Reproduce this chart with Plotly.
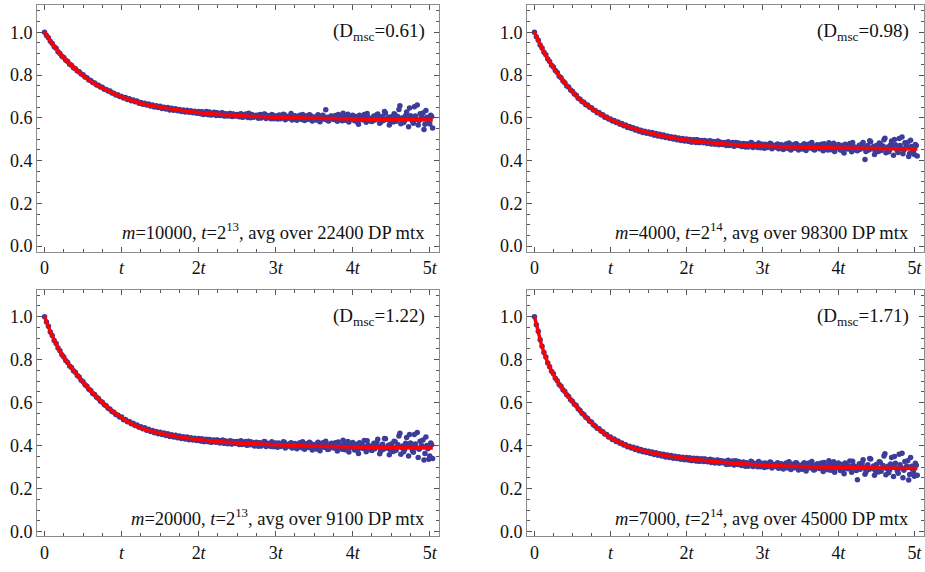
import plotly.graph_objects as go

# sample positions (in units of t)
x_pts = [round(0.025 * i, 3) for i in range(202)]
# extra samples in the flat part (between the ones above)
x_pts2 = [round(2.0125 + 0.025 * i, 4) for i in range(122)]

# m=10000, t=2^13
y_a = [1.000, 0.985, 0.974, 0.958, 0.948, 0.933, 0.925, 0.909, 0.901, 0.888,
       0.882, 0.869, 0.864, 0.851, 0.846, 0.834, 0.829, 0.819, 0.816, 0.805,
       0.801, 0.791, 0.788, 0.777, 0.774, 0.765, 0.763, 0.754, 0.752, 0.744,
       0.743, 0.734, 0.733, 0.725, 0.726, 0.716, 0.715, 0.707, 0.708, 0.700,
       0.700, 0.693, 0.695, 0.686, 0.689, 0.680, 0.683, 0.675, 0.679, 0.668,
       0.672, 0.663, 0.668, 0.660, 0.665, 0.655, 0.660, 0.651, 0.657, 0.648,
       0.654, 0.644, 0.650, 0.641, 0.648, 0.637, 0.645, 0.635, 0.642, 0.633,
       0.639, 0.630, 0.637, 0.627, 0.635, 0.626, 0.633, 0.624, 0.631, 0.621,
       0.630, 0.619, 0.627, 0.618, 0.629, 0.614, 0.622, 0.616, 0.626, 0.611,
       0.621, 0.611, 0.624, 0.610, 0.619, 0.608, 0.620, 0.607, 0.618, 0.609,
       0.616, 0.605, 0.619, 0.603, 0.614, 0.609, 0.621, 0.600, 0.613, 0.606,
       0.612, 0.598, 0.615, 0.604, 0.618, 0.597, 0.610, 0.602, 0.616, 0.596,
       0.608, 0.594, 0.613, 0.599, 0.617, 0.591, 0.606, 0.598, 0.620, 0.593,
       0.610, 0.589, 0.604, 0.596, 0.616, 0.588, 0.607, 0.593, 0.612, 0.585,
       0.603, 0.590, 0.614, 0.582, 0.606, 0.595, 0.638, 0.587, 0.600, 0.609,
       0.592, 0.611, 0.584, 0.603, 0.597, 0.621, 0.589, 0.606, 0.580, 0.600,
       0.612, 0.586, 0.598, 0.570, 0.607, 0.591, 0.616, 0.579, 0.603, 0.594,
       0.583, 0.609, 0.597, 0.618, 0.575, 0.600, 0.588, 0.623, 0.592, 0.566,
       0.605, 0.581, 0.614, 0.596, 0.639, 0.572, 0.600, 0.588, 0.627, 0.558,
       0.610, 0.584, 0.652, 0.593, 0.566, 0.619, 0.601, 0.545, 0.634, 0.589,
       0.571, 0.606]
y_a2 = [0.622, 0.628, 0.616, 0.624, 0.619, 0.627, 0.613, 0.621, 0.617, 0.624,
        0.613, 0.619, 0.622, 0.609, 0.616, 0.611, 0.620, 0.606, 0.615, 0.613,
        0.609, 0.617, 0.604, 0.612, 0.618, 0.602, 0.611, 0.615, 0.603, 0.610,
        0.606, 0.613, 0.599, 0.608, 0.617, 0.601, 0.609, 0.596, 0.612, 0.604,
        0.600, 0.611, 0.596, 0.604, 0.614, 0.597, 0.602, 0.609, 0.590, 0.606,
        0.597, 0.605, 0.612, 0.592, 0.601, 0.608, 0.595, 0.614, 0.599, 0.603,
        0.596, 0.609, 0.589, 0.601, 0.612, 0.594, 0.603, 0.585, 0.607, 0.598,
        0.604, 0.590, 0.615, 0.598, 0.586, 0.609, 0.599, 0.617, 0.592, 0.603,
        0.598, 0.606, 0.580, 0.612, 0.595, 0.601, 0.588, 0.620, 0.597, 0.584,
        0.601, 0.590, 0.614, 0.596, 0.579, 0.607, 0.630, 0.593, 0.603, 0.585,
        0.597, 0.619, 0.584, 0.605, 0.657, 0.593, 0.578, 0.611, 0.600, 0.646,
        0.594, 0.575, 0.608, 0.660, 0.587, 0.599, 0.623, 0.570, 0.603, 0.581,
        0.612, 0.552]

# m=4000, t=2^14
y_b = [1.000, 0.979, 0.963, 0.941, 0.927, 0.907, 0.895, 0.875, 0.864, 0.846,
       0.838, 0.821, 0.812, 0.795, 0.788, 0.772, 0.764, 0.749, 0.744, 0.730,
       0.724, 0.711, 0.705, 0.691, 0.687, 0.676, 0.673, 0.661, 0.660, 0.649,
       0.647, 0.636, 0.634, 0.624, 0.625, 0.614, 0.614, 0.603, 0.604, 0.594,
       0.595, 0.585, 0.587, 0.578, 0.580, 0.570, 0.573, 0.563, 0.566, 0.555,
       0.559, 0.550, 0.554, 0.543, 0.548, 0.537, 0.542, 0.531, 0.537, 0.528,
       0.534, 0.524, 0.531, 0.519, 0.527, 0.515, 0.523, 0.511, 0.520, 0.508,
       0.515, 0.505, 0.512, 0.501, 0.509, 0.497, 0.506, 0.494, 0.503, 0.492,
       0.501, 0.490, 0.499, 0.487, 0.497, 0.485, 0.496, 0.484, 0.494, 0.483,
       0.492, 0.480, 0.490, 0.478, 0.489, 0.476, 0.488, 0.474, 0.486, 0.475,
       0.484, 0.470, 0.488, 0.473, 0.482, 0.467, 0.485, 0.471, 0.479, 0.466,
       0.480, 0.463, 0.477, 0.469, 0.484, 0.461, 0.474, 0.468, 0.482, 0.460,
       0.476, 0.458, 0.473, 0.465, 0.481, 0.455, 0.470, 0.462, 0.478, 0.457,
       0.474, 0.452, 0.469, 0.461, 0.482, 0.450, 0.472, 0.458, 0.477, 0.449,
       0.468, 0.454, 0.479, 0.447, 0.471, 0.460, 0.485, 0.452, 0.466, 0.474,
       0.455, 0.476, 0.446, 0.468, 0.459, 0.483, 0.451, 0.470, 0.443, 0.463,
       0.475, 0.449, 0.462, 0.436, 0.471, 0.454, 0.480, 0.441, 0.466, 0.457,
       0.446, 0.472, 0.460, 0.484, 0.405, 0.465, 0.450, 0.488, 0.455, 0.428,
       0.470, 0.443, 0.479, 0.459, 0.497, 0.437, 0.463, 0.451, 0.491, 0.425,
       0.474, 0.447, 0.503, 0.456, 0.432, 0.483, 0.466, 0.419, 0.495, 0.452,
       0.428, 0.470]
y_b2 = [0.493, 0.499, 0.487, 0.495, 0.490, 0.497, 0.484, 0.492, 0.488, 0.494,
        0.484, 0.490, 0.493, 0.480, 0.487, 0.482, 0.491, 0.477, 0.485, 0.483,
        0.476, 0.484, 0.471, 0.479, 0.485, 0.469, 0.478, 0.482, 0.470, 0.477,
        0.471, 0.478, 0.464, 0.473, 0.482, 0.466, 0.474, 0.461, 0.477, 0.469,
        0.465, 0.476, 0.461, 0.469, 0.479, 0.462, 0.467, 0.474, 0.455, 0.471,
        0.462, 0.470, 0.477, 0.457, 0.466, 0.473, 0.460, 0.479, 0.464, 0.468,
        0.461, 0.474, 0.454, 0.466, 0.477, 0.459, 0.468, 0.450, 0.472, 0.463,
        0.468, 0.454, 0.479, 0.462, 0.450, 0.473, 0.463, 0.481, 0.456, 0.467,
        0.462, 0.470, 0.444, 0.476, 0.459, 0.465, 0.452, 0.484, 0.461, 0.448,
        0.464, 0.453, 0.477, 0.459, 0.442, 0.470, 0.493, 0.456, 0.466, 0.448,
        0.460, 0.482, 0.447, 0.468, 0.505, 0.456, 0.441, 0.474, 0.463, 0.499,
        0.457, 0.438, 0.471, 0.510, 0.450, 0.462, 0.486, 0.433, 0.466, 0.444,
        0.475, 0.421]

# m=20000, t=2^13
y_c = [1.000, 0.975, 0.955, 0.929, 0.912, 0.889, 0.875, 0.854, 0.842, 0.823,
       0.813, 0.796, 0.787, 0.771, 0.764, 0.749, 0.742, 0.727, 0.719, 0.704,
       0.697, 0.683, 0.677, 0.663, 0.657, 0.643, 0.638, 0.625, 0.620, 0.607,
       0.602, 0.590, 0.586, 0.574, 0.570, 0.559, 0.556, 0.545, 0.543, 0.533,
       0.533, 0.521, 0.522, 0.511, 0.512, 0.502, 0.504, 0.494, 0.496, 0.486,
       0.488, 0.479, 0.483, 0.472, 0.477, 0.466, 0.471, 0.460, 0.466, 0.456,
       0.462, 0.452, 0.459, 0.447, 0.455, 0.443, 0.451, 0.440, 0.448, 0.437,
       0.445, 0.434, 0.442, 0.431, 0.440, 0.428, 0.437, 0.426, 0.435, 0.424,
       0.433, 0.422, 0.431, 0.420, 0.430, 0.418, 0.428, 0.417, 0.427, 0.416,
       0.425, 0.413, 0.423, 0.411, 0.422, 0.409, 0.421, 0.408, 0.419, 0.410,
       0.419, 0.405, 0.423, 0.408, 0.417, 0.402, 0.421, 0.404, 0.414, 0.399,
       0.416, 0.398, 0.412, 0.404, 0.420, 0.396, 0.409, 0.403, 0.418, 0.395,
       0.412, 0.393, 0.409, 0.400, 0.418, 0.389, 0.405, 0.397, 0.414, 0.392,
       0.410, 0.386, 0.404, 0.395, 0.418, 0.383, 0.407, 0.392, 0.413, 0.380,
       0.403, 0.385, 0.416, 0.377, 0.408, 0.393, 0.421, 0.382, 0.399, 0.411,
       0.389, 0.414, 0.375, 0.403, 0.394, 0.425, 0.381, 0.407, 0.371, 0.398,
       0.415, 0.380, 0.397, 0.364, 0.410, 0.388, 0.424, 0.372, 0.403, 0.391,
       0.378, 0.411, 0.396, 0.430, 0.362, 0.400, 0.384, 0.432, 0.389, 0.358,
       0.408, 0.373, 0.418, 0.393, 0.445, 0.360, 0.399, 0.383, 0.438, 0.352,
       0.412, 0.378, 0.452, 0.391, 0.345, 0.421, 0.400, 0.334, 0.440, 0.386,
       0.352, 0.404]
y_c2 = [0.425, 0.431, 0.419, 0.427, 0.422, 0.429, 0.416, 0.424, 0.420, 0.426,
        0.417, 0.423, 0.426, 0.412, 0.419, 0.414, 0.423, 0.409, 0.418, 0.415,
        0.411, 0.419, 0.405, 0.414, 0.420, 0.403, 0.412, 0.417, 0.404, 0.411,
        0.407, 0.414, 0.399, 0.409, 0.418, 0.401, 0.410, 0.396, 0.413, 0.404,
        0.401, 0.413, 0.396, 0.405, 0.416, 0.397, 0.403, 0.410, 0.389, 0.407,
        0.397, 0.406, 0.414, 0.391, 0.401, 0.409, 0.394, 0.416, 0.399, 0.404,
        0.396, 0.410, 0.388, 0.401, 0.414, 0.393, 0.404, 0.383, 0.408, 0.398,
        0.404, 0.388, 0.417, 0.397, 0.383, 0.410, 0.398, 0.420, 0.390, 0.403,
        0.397, 0.407, 0.377, 0.414, 0.393, 0.400, 0.385, 0.423, 0.396, 0.380,
        0.400, 0.386, 0.415, 0.394, 0.374, 0.407, 0.433, 0.390, 0.402, 0.381,
        0.395, 0.421, 0.379, 0.404, 0.458, 0.390, 0.372, 0.411, 0.398, 0.452,
        0.392, 0.369, 0.408, 0.461, 0.383, 0.397, 0.426, 0.364, 0.401, 0.337,
        0.413, 0.341]

# m=7000, t=2^14
y_d = [1.000, 0.962, 0.932, 0.893, 0.862, 0.833, 0.812, 0.785, 0.767, 0.746,
       0.734, 0.714, 0.702, 0.685, 0.677, 0.660, 0.652, 0.637, 0.629, 0.614,
       0.607, 0.593, 0.587, 0.572, 0.564, 0.551, 0.545, 0.532, 0.526, 0.514,
       0.510, 0.497, 0.492, 0.481, 0.479, 0.468, 0.465, 0.454, 0.452, 0.441,
       0.440, 0.429, 0.431, 0.420, 0.422, 0.411, 0.413, 0.403, 0.404, 0.395,
       0.398, 0.389, 0.393, 0.382, 0.388, 0.377, 0.382, 0.372, 0.378, 0.368,
       0.374, 0.364, 0.371, 0.359, 0.367, 0.355, 0.363, 0.352, 0.360, 0.348,
       0.357, 0.345, 0.354, 0.342, 0.351, 0.340, 0.349, 0.337, 0.346, 0.335,
       0.345, 0.334, 0.343, 0.331, 0.342, 0.329, 0.340, 0.328, 0.339, 0.327,
       0.337, 0.325, 0.335, 0.322, 0.334, 0.320, 0.332, 0.319, 0.330, 0.321,
       0.328, 0.313, 0.332, 0.316, 0.326, 0.310, 0.330, 0.312, 0.323, 0.308,
       0.324, 0.305, 0.320, 0.311, 0.328, 0.303, 0.317, 0.309, 0.326, 0.302,
       0.318, 0.299, 0.315, 0.306, 0.324, 0.296, 0.311, 0.303, 0.321, 0.298,
       0.316, 0.292, 0.310, 0.301, 0.325, 0.289, 0.312, 0.297, 0.319, 0.287,
       0.308, 0.290, 0.321, 0.282, 0.313, 0.298, 0.326, 0.287, 0.304, 0.316,
       0.294, 0.319, 0.280, 0.308, 0.299, 0.330, 0.286, 0.312, 0.276, 0.303,
       0.320, 0.285, 0.302, 0.269, 0.315, 0.293, 0.329, 0.277, 0.308, 0.296,
       0.242, 0.316, 0.301, 0.335, 0.267, 0.305, 0.289, 0.338, 0.294, 0.263,
       0.313, 0.278, 0.323, 0.298, 0.352, 0.265, 0.304, 0.288, 0.345, 0.257,
       0.318, 0.283, 0.360, 0.296, 0.251, 0.327, 0.305, 0.240, 0.345, 0.291,
       0.258, 0.309]
y_d2 = [0.337, 0.343, 0.331, 0.339, 0.334, 0.341, 0.328, 0.336, 0.332, 0.338,
        0.328, 0.334, 0.337, 0.323, 0.330, 0.325, 0.334, 0.320, 0.329, 0.326,
        0.320, 0.328, 0.314, 0.323, 0.329, 0.312, 0.321, 0.326, 0.313, 0.320,
        0.313, 0.320, 0.305, 0.315, 0.324, 0.307, 0.316, 0.302, 0.319, 0.310,
        0.307, 0.319, 0.302, 0.311, 0.322, 0.303, 0.309, 0.316, 0.295, 0.313,
        0.302, 0.311, 0.319, 0.296, 0.306, 0.314, 0.299, 0.321, 0.304, 0.309,
        0.301, 0.315, 0.293, 0.306, 0.319, 0.298, 0.309, 0.288, 0.313, 0.303,
        0.309, 0.293, 0.322, 0.302, 0.288, 0.315, 0.303, 0.325, 0.295, 0.308,
        0.302, 0.312, 0.282, 0.319, 0.298, 0.305, 0.290, 0.328, 0.301, 0.285,
        0.304, 0.290, 0.320, 0.298, 0.278, 0.311, 0.340, 0.294, 0.306, 0.284,
        0.299, 0.325, 0.281, 0.308, 0.362, 0.293, 0.274, 0.315, 0.302, 0.350,
        0.296, 0.272, 0.311, 0.365, 0.286, 0.300, 0.330, 0.266, 0.305, 0.279,
        0.318, 0.262]

fit_x = [0, 0.05, 0.1, 0.2, 0.3, 0.4, 0.5, 0.6, 0.7, 0.8, 1.0, 1.2, 1.5,
         2.0, 2.5, 3.0, 3.5, 4.0, 4.5, 5.04]
fit_a = [1.0, 0.973, 0.947, 0.900, 0.862, 0.828, 0.797, 0.770, 0.749, 0.730,
         0.698, 0.673, 0.650, 0.625, 0.611, 0.603, 0.598, 0.595, 0.592, 0.590]
fit_b = [1.0, 0.962, 0.925, 0.862, 0.810, 0.762, 0.722, 0.685, 0.657, 0.632,
         0.592, 0.562, 0.530, 0.496, 0.478, 0.468, 0.463, 0.459, 0.456, 0.454]
fit_c = [1.0, 0.953, 0.910, 0.840, 0.785, 0.740, 0.695, 0.655, 0.618, 0.584,
         0.530, 0.489, 0.458, 0.428, 0.413, 0.404, 0.398, 0.394, 0.391, 0.389]
fit_d = [1.0, 0.930, 0.860, 0.765, 0.700, 0.650, 0.605, 0.562, 0.524, 0.490,
         0.437, 0.401, 0.370, 0.340, 0.322, 0.310, 0.303, 0.299, 0.296, 0.294]

d_msc = ["0.61", "0.98", "1.22", "1.71"]
captions = [
    "<i>m</i>=10000, <i>t</i>=2<sup>13</sup>, avg over 22400 DP mtx",
    "<i>m</i>=4000, <i>t</i>=2<sup>14</sup>, avg over 98300 DP mtx",
    "<i>m</i>=20000, <i>t</i>=2<sup>13</sup>, avg over 9100 DP mtx",
    "<i>m</i>=7000, <i>t</i>=2<sup>14</sup>, avg over 45000 DP mtx",
]

x_ticks = [0, 1, 2, 3, 4, 5]
x_ticktext = ["0", "<i>t</i>", "2<i>t</i>", "3<i>t</i>", "4<i>t</i>", "5<i>t</i>"]
y_ticks = [0.0, 0.2, 0.4, 0.6, 0.8, 1.0]
y_ticktext = ["0.0", "0.2", "0.4", "0.6", "0.8", "1.0"]

FONT = "Liberation Serif, Times New Roman, serif"
BLUE = "rgb(61,61,153)"

fig = go.Figure()

series = [(y_a, y_a2, fit_a), (y_b, y_b2, fit_b), (y_c, y_c2, fit_c), (y_d, y_d2, fit_d)]
for i, (ys, ys2, fit) in enumerate(series):
    sfx = "" if i == 0 else str(i + 1)
    fig.add_trace(go.Scatter(x=x_pts + x_pts2, y=ys + ys2, mode="markers",
                             marker=dict(size=5.5, color=BLUE, line=dict(width=0)),
                             xaxis="x" + sfx, yaxis="y" + sfx))
    fig.add_trace(go.Scatter(x=fit_x, y=fit, mode="lines",
                             line=dict(color="red", width=3.5, shape="spline", smoothing=0.8),
                             xaxis="x" + sfx, yaxis="y" + sfx))
    fig.add_annotation(x=4.96, y=1.0, xref="x" + sfx, yref="y" + sfx,
                       text="(D<sub>msc</sub>=" + d_msc[i] + ")", showarrow=False,
                       xanchor="right", yanchor="middle",
                       font=dict(family=FONT, size=19, color="#111"))
    fig.add_annotation(x=4.96, y=0.07, xref="x" + sfx, yref="y" + sfx,
                       text=captions[i], showarrow=False,
                       xanchor="right", yanchor="middle",
                       font=dict(family=FONT, size=18.5, color="#111"))

x_dom = [[37 / 925, 439 / 925], [527 / 925, 923.5 / 925]]
y_dom = [[1 - 254.3 / 572, 1 - 5 / 572], [1 - 541.7 / 572, 1 - 293.3 / 572]]
y_rng = [[-0.026, 1.128], [-0.020, 1.123]]

common = dict(showline=True, linecolor="#8c8c8c", linewidth=1, mirror="ticks",
              ticks="inside", ticklen=5, tickcolor="#555", showgrid=False,
              zeroline=False, ticklabeloverflow="allow",
              tickfont=dict(family=FONT, size=18, color="#111"))

layout = {}
for i in range(4):
    sfx = "" if i == 0 else str(i + 1)
    row, col = i // 2, i % 2
    layout["xaxis" + sfx] = dict(
        common, domain=x_dom[col], anchor="y" + sfx, range=[-0.098, 5.12],
        tickmode="array", tickvals=x_ticks, ticktext=x_ticktext,
        minor=dict(tickmode="linear", tick0=0, dtick=0.25, ticks="inside",
                   ticklen=3, tickcolor="#555", showgrid=False))
    layout["yaxis" + sfx] = dict(
        common, domain=y_dom[row], anchor="x" + sfx, range=y_rng[row],
        tickmode="array", tickvals=y_ticks, ticktext=y_ticktext,
        minor=dict(tickmode="linear", tick0=0, dtick=0.05, ticks="inside",
                   ticklen=3, tickcolor="#555", showgrid=False))

fig.update_layout(**layout)
fig.update_layout(width=925, height=572, margin=dict(l=0, r=0, t=0, b=0),
                  paper_bgcolor="white", plot_bgcolor="white", showlegend=False)

# page body has a default margin; drop it so the figure sits at the corner
fig.write_html("out.html", config={"displayModeBar": False},
               post_script="document.body.style.margin='0';")
